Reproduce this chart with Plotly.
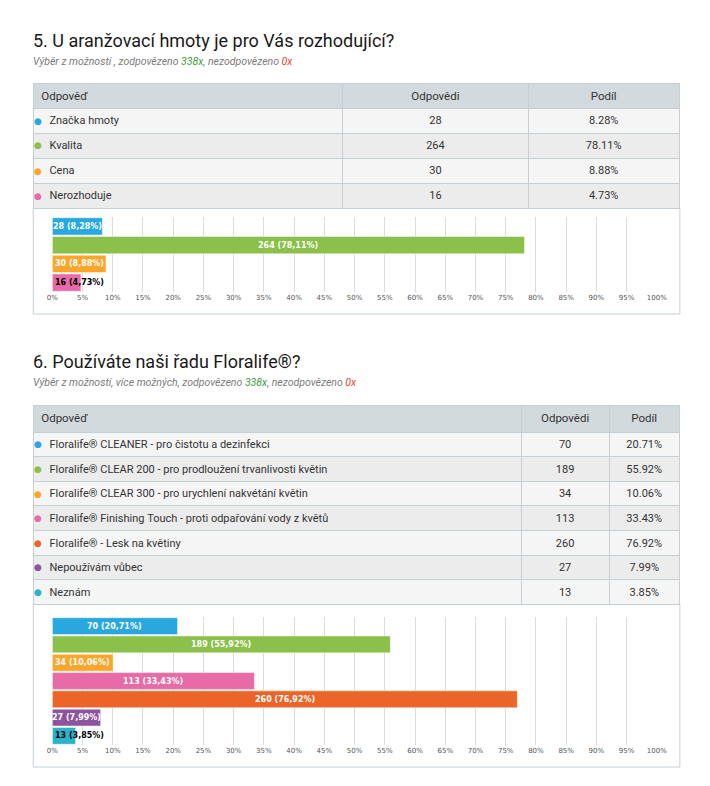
import plotly.graph_objects as go

W, H = 710, 786

# ---------------- data ----------------
q1_title = "5. U aranžovací hmoty je pro Vás rozhodující?"
q1_sub_prefix = "Výběr z možností , zodpovězeno "
q1_answered = "338x"
q1_unanswered = "0x"
q1_labels = ["Značka hmoty", "Kvalita", "Cena", "Nerozhoduje"]
q1_counts = [28, 264, 30, 16]
q1_pcts = [8.28, 78.11, 8.88, 4.73]

q2_title = "6. Používáte naši řadu Floralife®?"
q2_sub_prefix = "Výběr z možností, více možných, zodpovězeno "
q2_answered = "338x"
q2_unanswered = "0x"
q2_labels = [
    "Floralife® CLEANER - pro čistotu a dezinfekci",
    "Floralife® CLEAR 200 - pro prodloužení trvanlivosti květin",
    "Floralife® CLEAR 300 - pro urychlení nakvétání květin",
    "Floralife® Finishing Touch - proti odpařování vody z květů",
    "Floralife® - Lesk na květiny",
    "Nepoužívám vůbec",
    "Neznám",
]
q2_counts = [70, 189, 34, 113, 260, 27, 13]
q2_pcts = [20.71, 55.92, 10.06, 33.43, 76.92, 7.99, 3.85]

header_labels = ["Odpověď", "Odpovědi", "Podíl"]
tick_values = list(range(0, 101, 5))
tick_labels = [f"{v}%" for v in tick_values]

# ---------------- styles ----------------
q1_colors = ["#29a8e0", "#8bc04a", "#fba62b", "#e66ba6"]
q2_colors = ["#29a8e0", "#8bc04a", "#fba62b", "#e66ba6", "#ea6527", "#8d55a0", "#2ab3c9"]
NARROW = "Roboto, Liberation Sans Narrow, sans-serif"
CHART_FONT = "DejaVu Sans, Verdana, sans-serif"
BORDER = "#c6d0d4"
HEADER_FILL = "#d3dadd"
ROW_A = "#f5f5f5"
ROW_B = "#ececec"
NBSP = "\u00a0"
TBL_L, TBL_R = 33, 678
# horizontal calibration of the photographed page (observed x' = SX * x + OX)
SX, OX = 0.975, 5.8


def yp(px):
    return 1 - px / H


def xp(px):
    return (px - OX) / (SX * W)


def fmt_pct(v):
    return f"{v:.2f}%"


def fmt_label(c, v):
    return f"{c} ({v:.2f}%)".replace(".", ",")


fig = go.Figure()
annotations = []
shapes = []


def add_section(title, sub_prefix, answered, unanswered, labels, counts, pcts, colors,
                title_y, sub_y, tbl_top, header_h, row_h, colwidths,
                box_bottom, plot_top, plot_bottom, xa, ya):
    annotations.append(dict(
        text=title, x=xp(31), y=yp(title_y), xref="paper", yref="paper",
        xanchor="left", yanchor="middle", showarrow=False,
        font=dict(family=NARROW, size=18, color="#1a1a1a")))
    annotations.append(dict(
        text=(f"{sub_prefix}<span style='color:#3c9a3c'>{answered}</span>, "
              f"nezodpovězeno <span style='color:#e8452c'>{unanswered}</span>"),
        x=xp(31), y=yp(sub_y), xref="paper", yref="paper",
        xanchor="left", yanchor="middle", showarrow=False,
        font=dict(family=NARROW, size=10.5, color="#7a7a7a", style="italic")))

    n = len(labels)
    tbl_bottom = tbl_top + header_h + n * row_h
    fills = [ROW_A if i % 2 == 0 else ROW_B for i in range(n)]
    first_col = [NBSP * 3 + lab.replace(" ", NBSP) for lab in labels]
    fig.add_trace(go.Table(
        domain=dict(x=[xp(TBL_L), xp(TBL_R)], y=[yp(tbl_bottom + 2), yp(tbl_top)]),
        columnwidth=colwidths,
        header=dict(values=header_labels, height=header_h,
                    align=["left", "center", "center"],
                    fill=dict(color=HEADER_FILL), line=dict(color=BORDER, width=1),
                    font=dict(family=NARROW, size=11.5, color="#333333")),
        cells=dict(values=[first_col, [str(c) for c in counts], [fmt_pct(v) for v in pcts]],
                   height=row_h, align=["left", "center", "center"],
                   fill=dict(color=[fills, fills, fills]),
                   line=dict(color=BORDER, width=1),
                   font=dict(family=NARROW, size=11, color="#333333")),
    ))
    # coloured bullets in front of the answer labels
    for i, c in enumerate(colors):
        annotations.append(dict(
            text="●", x=xp(TBL_L + 4.5), y=yp(tbl_top + header_h + (i + 0.5) * row_h),
            xref="paper", yref="paper", xanchor="center", yanchor="middle",
            showarrow=False, font=dict(family="DejaVu Sans", size=9, color=c)))

    shapes.append(dict(type="rect", xref="paper", yref="paper",
                       x0=xp(TBL_L), x1=xp(TBL_R), y0=yp(box_bottom), y1=yp(tbl_bottom),
                       line=dict(color=BORDER, width=1), fillcolor="rgba(0,0,0,0)", layer="below"))

    fig.add_trace(go.Bar(
        x=pcts, y=labels, orientation="h", xaxis=xa, yaxis=ya,
        marker=dict(color=colors, line=dict(color="rgba(255,255,255,0.45)", width=1)),
        hoverinfo="skip", showlegend=False))

    for lab, c, v in zip(labels, counts, pcts):
        inside = v >= 6
        annotations.append(dict(
            text=f"<b>{fmt_label(c, v)}</b>", x=(v / 2 if inside else 0), y=lab,
            xref=xa, yref=ya, xanchor=("center" if inside else "left"), yanchor="middle",
            xshift=(0 if inside else 1), showarrow=False,
            font=dict(family=CHART_FONT, size=8, color=("white" if inside else "black"))))

    axis_x = dict(domain=[xp(52), xp(655)], range=[0, 100], tickmode="array",
                  tickvals=tick_values, ticktext=tick_labels,
                  showgrid=True, gridcolor="#dcdcdc", gridwidth=1,
                  zeroline=False, showline=False, ticks="", anchor=ya,
                  tickfont=dict(family=CHART_FONT, size=7, color="#555555"), fixedrange=True)
    axis_y = dict(domain=[yp(plot_bottom), yp(plot_top)], autorange="reversed",
                  showticklabels=False, showgrid=False, zeroline=False, ticks="",
                  anchor=xa, type="category", fixedrange=True)
    return axis_x, axis_y


x1, y1 = add_section(q1_title, q1_sub_prefix, q1_answered, q1_unanswered,
                     q1_labels, q1_counts, q1_pcts, q1_colors,
                     title_y=40, sub_y=61, tbl_top=83, header_h=25, row_h=25,
                     colwidths=[309, 185, 151], box_bottom=314,
                     plot_top=217, plot_bottom=292, xa="x", ya="y")
x2, y2 = add_section(q2_title, q2_sub_prefix, q2_answered, q2_unanswered,
                     q2_labels, q2_counts, q2_pcts, q2_colors,
                     title_y=361, sub_y=383, tbl_top=405, header_h=27, row_h=24.6,
                     colwidths=[487, 88, 70], box_bottom=767,
                     plot_top=617, plot_bottom=745, xa="x2", ya="y2")

fig.update_layout(
    width=W, height=H, margin=dict(l=0, r=0, t=0, b=0),
    paper_bgcolor="white", plot_bgcolor="white",
    bargap=0.08, showlegend=False,
    xaxis=x1, yaxis=y1, xaxis2=x2, yaxis2=y2,
    annotations=annotations, shapes=shapes,
)

fig.write_html("out.html", config={"displayModeBar": False},
               post_script="document.body.style.margin='0';document.body.style.overflow='hidden';")
